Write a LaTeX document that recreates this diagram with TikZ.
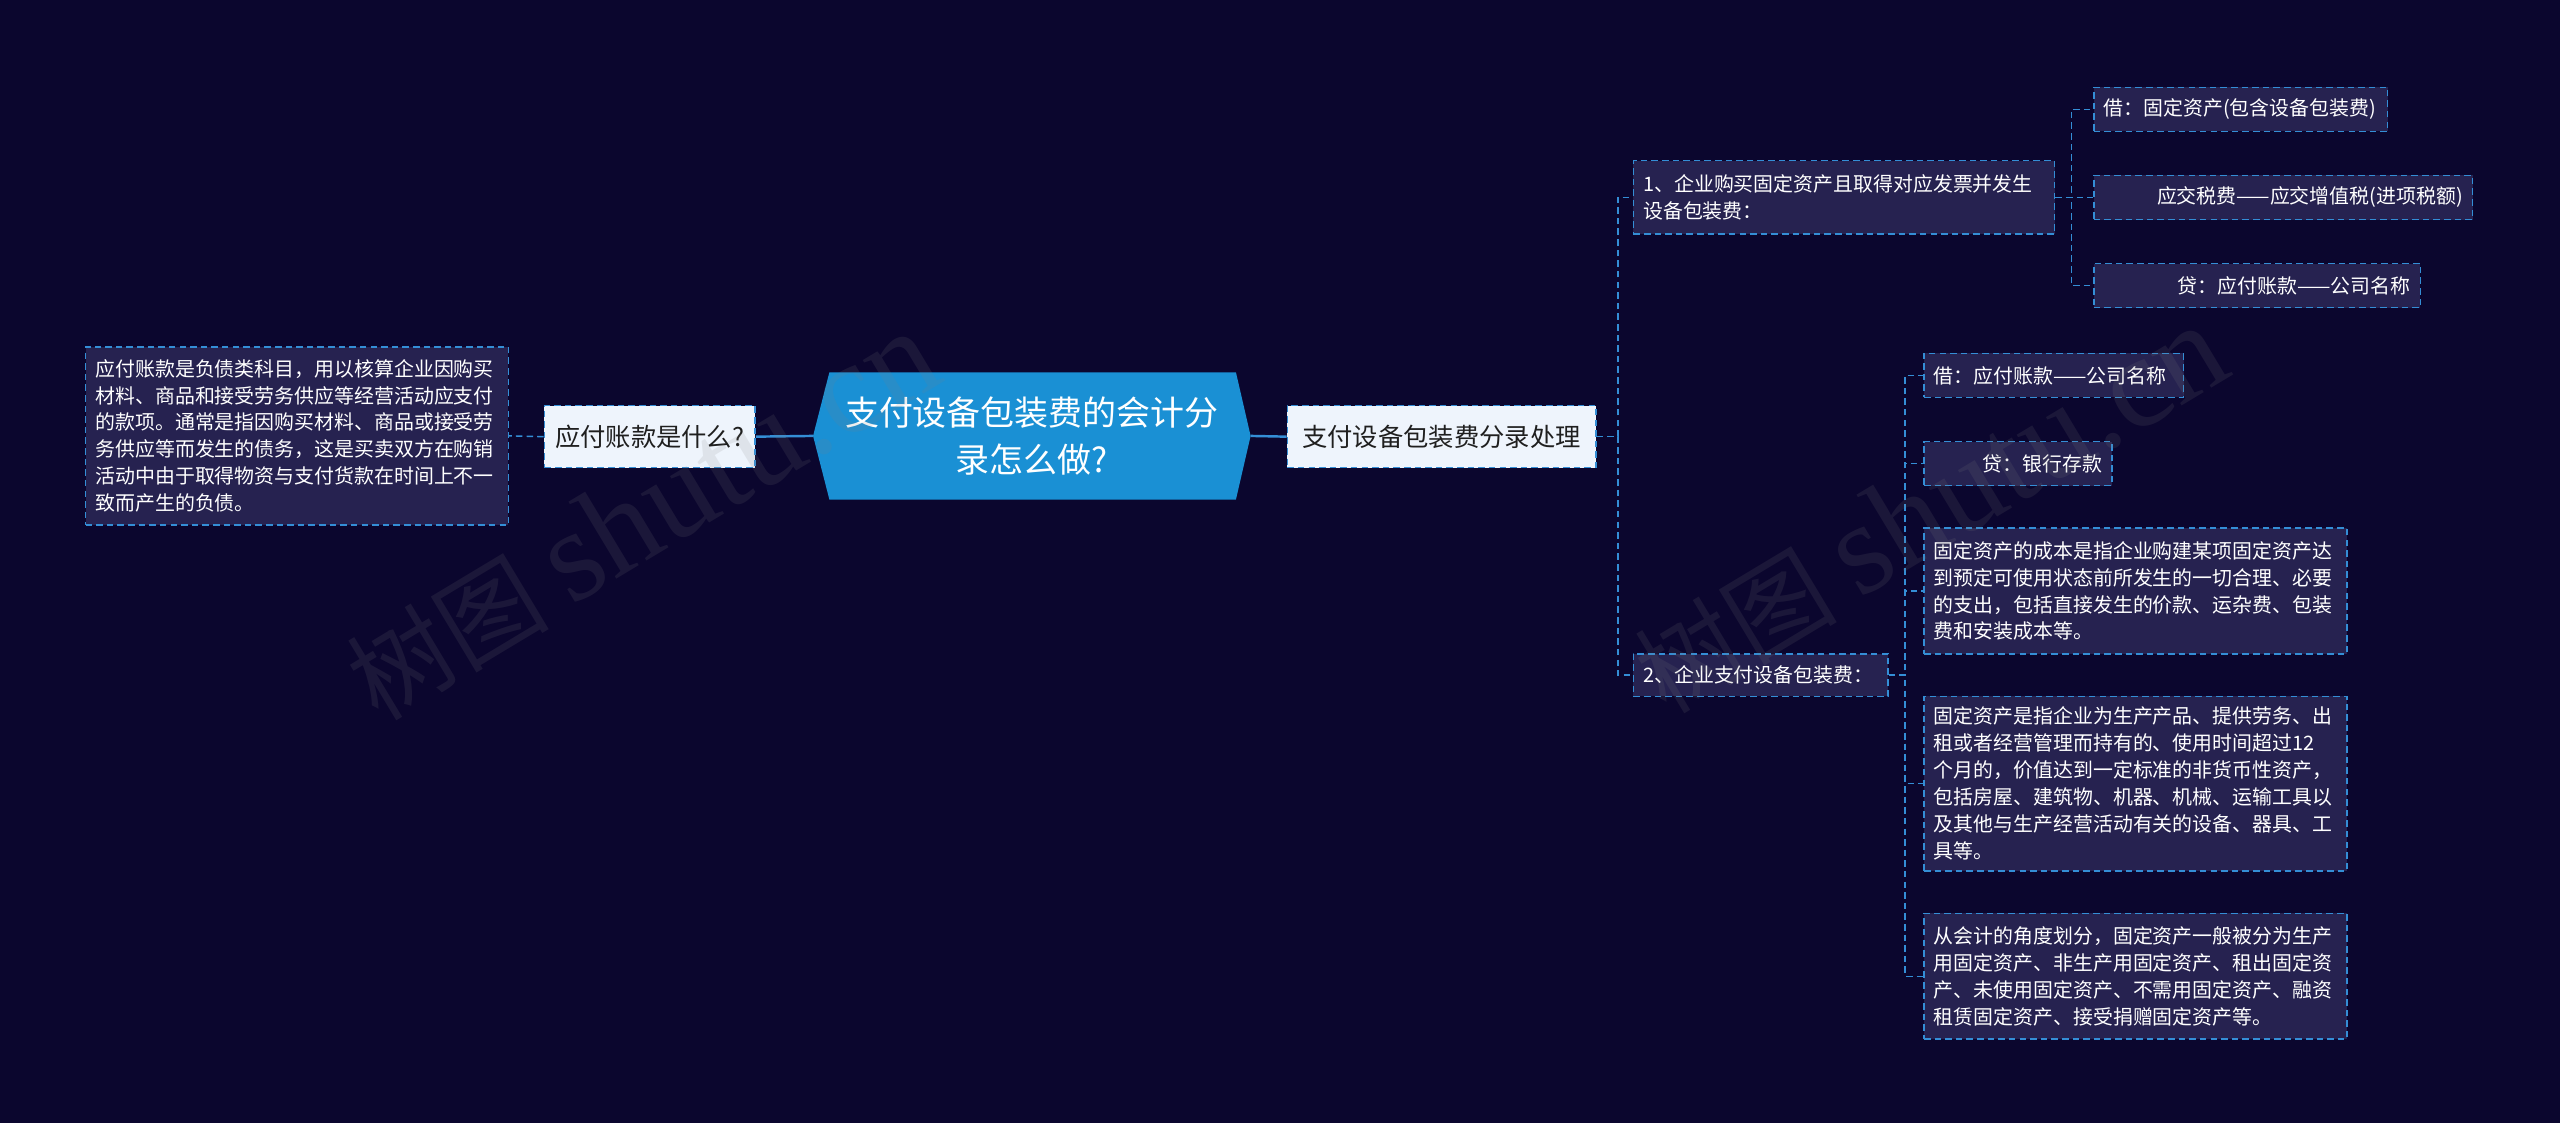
\documentclass[tikz,border=0pt]{standalone}
\usepackage{fontspec}
\setmainfont{Noto Sans CJK SC}
\newfontfamily\wmlatin{Liberation Serif}
\definecolor{bgc}{RGB}{11,6,46}
\definecolor{boxc}{RGB}{38,34,80}
\definecolor{linec}{RGB}{52,142,214}
\definecolor{lightc}{RGB}{238,244,252}
\definecolor{centc}{RGB}{26,144,212}
\begin{document}
\begin{tikzpicture}[x=1pt,y=-1pt,
  base/.style={anchor=north west, inner xsep=6pt, inner ysep=0pt, draw=linec, line width=0.9pt,
    dash pattern=on 4pt off 2.5pt, font=\fontsize{12.2}{16.5}\selectfont, text=white, fill=boxc},
  leftbox/.style={base, align=left},
  rightbox/.style={base, align=right},
  lightbox/.style={base, fill=lightc, text=black!88, font=\fontsize{15.5}{19}\selectfont, align=center},
  conn/.style={draw=linec, line width=0.9pt, dash pattern=on 4pt off 2.5pt},
  solidconn/.style={draw=linec, line width=1.5pt},
  wm/.style={text=gray, opacity=0.14, font=\fontsize{62}{66}\selectfont, inner sep=0pt}
]
\useasboundingbox (0,0) rectangle (1568,688);
\fill[bgc] (0,0) rectangle (1568,688);

% centre
\fill[centc] (498,267) -- (508,228) -- (757,228) -- (766,267) -- (757,306) -- (508,306) -- cycle;
\coordinate (cL) at (498,267);
\coordinate (cR) at (766,267);
\node[text=white, font=\fontsize{20.8}{29}\selectfont, align=center] (center) at (632,267)
  {支付设备包装费的会计分\\录怎么做?};

% left branch
\node[lightbox, minimum width=129pt, minimum height=38pt] (q) at (333,248) {应付账款是什么?};
\node[leftbox, text width=247pt, minimum height=109pt] (qd) at (52,212)
  {应付账款是负债类科目，用以核算企业因购买\\材料、商品和接受劳务供应等经营活动应支付\\的款项。通常是指因购买材料、商品或接受劳\\务供应等而发生的债务，这是买卖双方在购销\\活动中由于取得物资与支付货款在时间上不一\\致而产生的负债。};

% right branch
\node[lightbox, minimum width=189pt, minimum height=38pt] (p) at (788,248) {支付设备包装费分录处理};
\node[leftbox, text width=246pt, minimum height=45pt] (a1) at (1000,98)
  {1、企业购买固定资产且取得对应发票并发生\\设备包装费：};
\node[leftbox, text width=144pt, minimum height=26pt] (a2) at (1000,400) {2、企业支付设备包装费：};

\node[leftbox, text width=168pt, minimum height=27pt] (a1c1) at (1282,53) {借：固定资产(包含设备包装费)};
\node[rightbox, text width=220pt, minimum height=27pt] (a1c2) at (1282,107) {应交税费——应交增值税(进项税额)};
\node[rightbox, text width=188pt, minimum height=27pt] (a1c3) at (1282,161) {贷：应付账款——公司名称};

\node[leftbox, text width=147pt, minimum height=27pt] (a2c1) at (1178,216) {借：应付账款——公司名称};
\node[rightbox, text width=103pt, minimum height=27pt] (a2c2) at (1178,270) {贷：银行存款};
\node[leftbox, text width=247pt, minimum height=77pt] (a2c3) at (1178,323)
  {固定资产的成本是指企业购建某项固定资产达\\到预定可使用状态前所发生的一切合理、必要\\的支出，包括直接发生的价款、运杂费、包装\\费和安装成本等。};
\node[leftbox, text width=247pt, minimum height=107pt] (a2c4) at (1178,426)
  {固定资产是指企业为生产产品、提供劳务、出\\租或者经营管理而持有的、使用时间超过12\\个月的，价值达到一定标准的非货币性资产，\\包括房屋、建筑物、机器、机械、运输工具以\\及其他与生产经营活动有关的设备、器具、工\\具等。};
\node[leftbox, text width=247pt, minimum height=77pt] (a2c5) at (1178,559)
  {从会计的角度划分，固定资产一般被分为生产\\用固定资产、非生产用固定资产、租出固定资\\产、未使用固定资产、不需用固定资产、融资\\租赁固定资产、接受捐赠固定资产等。};

% connectors
\draw[solidconn] (cL) -- (q.east);
\draw[conn] (q.west) -- (qd.east);
\draw[solidconn] (cR) -- (p.west);
\draw[conn] (p.east) -- ++(13,0) |- (a1.west);
\draw[conn] (p.east) -- ++(13,0) |- (a2.west);
\foreach \c in {a1c1,a1c2,a1c3} \draw[conn] (a1.east) -- ++(10,0) |- (\c.west);
\foreach \c in {a2c1,a2c2,a2c3,a2c4,a2c5} \draw[conn] (a2.east) -- ++(10,0) |- (\c.west);

% watermarks
\node[wm, rotate=31] (wm1) at (393,316) {树图 {\wmlatin\fontsize{80}{84}\selectfont shutu.cn}};
\node[wm, rotate=31] (wm2) at (1182,312) {树图 {\wmlatin\fontsize{80}{84}\selectfont shutu.cn}};
\end{tikzpicture}
\end{document}
